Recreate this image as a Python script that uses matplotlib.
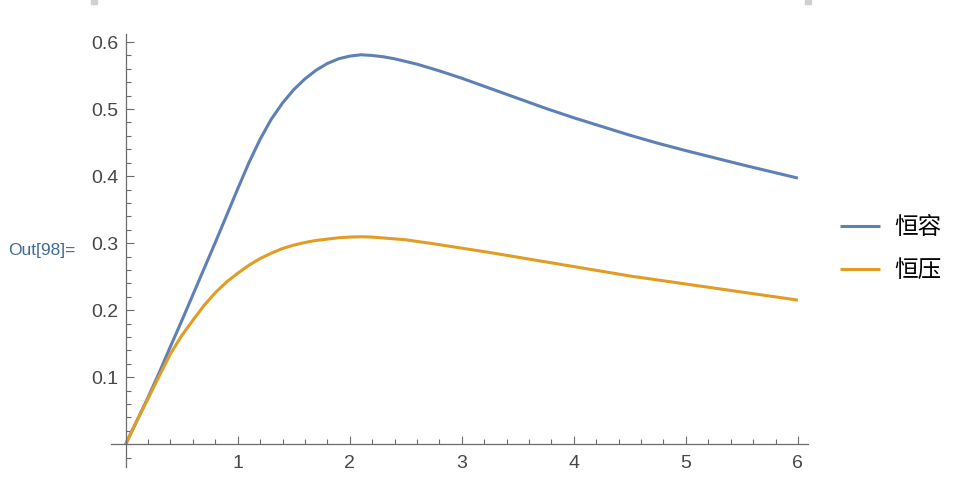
import matplotlib
matplotlib.use("Agg")
import matplotlib.pyplot as plt
from matplotlib.patches import Rectangle
from matplotlib.ticker import MultipleLocator

# values
x_const_vol = [0, 0.1, 0.2, 0.3, 0.4, 0.5, 0.6, 0.7, 0.8, 0.9, 1.0, 1.1, 1.2,
               1.3, 1.4, 1.5, 1.6, 1.7, 1.8, 1.9, 2.0, 2.1, 2.2, 2.3, 2.4,
               2.5, 2.6, 2.7, 2.8, 3.0, 3.25, 3.5, 3.75, 4.0, 4.25, 4.5,
               4.75, 5.0, 5.5, 6.0]
y_const_vol = [0, 0.035, 0.070, 0.107, 0.146, 0.184, 0.223, 0.262, 0.301,
               0.341, 0.381, 0.420, 0.455, 0.485, 0.509, 0.529, 0.545, 0.558,
               0.568, 0.575, 0.579, 0.581, 0.580, 0.578, 0.575, 0.571, 0.567,
               0.562, 0.557, 0.546, 0.531, 0.516, 0.501, 0.487, 0.474, 0.461,
               0.449, 0.438, 0.417, 0.397]

x_const_p = [0, 0.1, 0.2, 0.3, 0.4, 0.5, 0.6, 0.7, 0.8, 0.9, 1.0, 1.1, 1.2,
             1.3, 1.4, 1.5, 1.6, 1.7, 1.8, 1.9, 2.0, 2.1, 2.2, 2.5, 2.75, 3.0,
             3.25, 3.5, 4.0, 4.5, 5.0, 5.5, 6.0]
y_const_p = [0, 0.035, 0.068, 0.102, 0.135, 0.162, 0.185, 0.207, 0.226,
             0.242, 0.255, 0.267, 0.277, 0.285, 0.292, 0.297, 0.301, 0.304,
             0.306, 0.308, 0.309, 0.3095, 0.309, 0.305, 0.299, 0.2925,
             0.286, 0.279, 0.265, 0.251, 0.239, 0.227, 0.215]

labels = ["恒容", "恒压"]
x_ticks = [1, 2, 3, 4, 5, 6]
y_ticks = [0.1, 0.2, 0.3, 0.4, 0.5, 0.6]

blue = "#5e81b5"
orange = "#e19c24"
axis_col = "#6b6b6b"
text_col = "#474747"

plt.rcParams["font.family"] = ["Liberation Sans", "DejaVu Sans"]

fig = plt.figure(figsize=(9.76, 5.0), dpi=100)
ax = fig.add_axes([111 / 976, 33 / 500, 697 / 976, 433 / 500])

l1, = ax.plot(x_const_vol, y_const_vol, color=blue, lw=2.2,
              solid_capstyle="butt", solid_joinstyle="round")
l2, = ax.plot(x_const_p, y_const_p, color=orange, lw=2.2,
              solid_capstyle="butt", solid_joinstyle="round")

ax.set_xlim(-0.131, 6.09)
ax.set_ylim(-0.034, 0.612)

for side in ["top", "right"]:
    ax.spines[side].set_visible(False)
for side in ["left", "bottom"]:
    ax.spines[side].set_position(("data", 0))
    ax.spines[side].set_color(axis_col)
    ax.spines[side].set_linewidth(0.9)

ax.set_xticks(x_ticks)
ax.set_yticks(y_ticks)
ax.set_xticklabels([str(t) for t in x_ticks])
ax.set_yticklabels([f"{t:.1f}" for t in y_ticks])
ax.xaxis.set_minor_locator(MultipleLocator(0.2))
ax.yaxis.set_minor_locator(MultipleLocator(0.02))

ax.tick_params(which="both", direction="in", color=axis_col, width=0.8,
               labelcolor=text_col, labelsize=14)
ax.tick_params(which="major", length=6)
ax.tick_params(which="minor", length=3.3)
ax.tick_params(axis="x", which="major", pad=8)
ax.tick_params(axis="y", which="major", pad=5)

leg = ax.legend([l1, l2], labels, loc="center left",
                bbox_to_anchor=(840 / 976, 1 - 249 / 500),
                bbox_transform=fig.transFigure, frameon=False,
                borderpad=0, borderaxespad=0, handlelength=1.7,
                handletextpad=0.6, labelspacing=0.85,
                prop={"family": ["Noto Sans CJK SC", "DejaVu Sans"],
                      "size": 17})

fig.text(8 / 976, 1 - 251 / 500, "Out[98]=", fontsize=12.5,
         color="#3f6c93", va="center", ha="left")

# cell bracket marks at the top edge
fig.patches.append(Rectangle((91 / 976, 1 - 4 / 500), 6 / 976, 4 / 500,
                             transform=fig.transFigure, color="#d0d0d0"))
fig.patches.append(Rectangle((805 / 976, 1 - 4 / 500), 6 / 976, 4 / 500,
                             transform=fig.transFigure, color="#d0d0d0"))

fig.savefig("out.png", dpi=100)
